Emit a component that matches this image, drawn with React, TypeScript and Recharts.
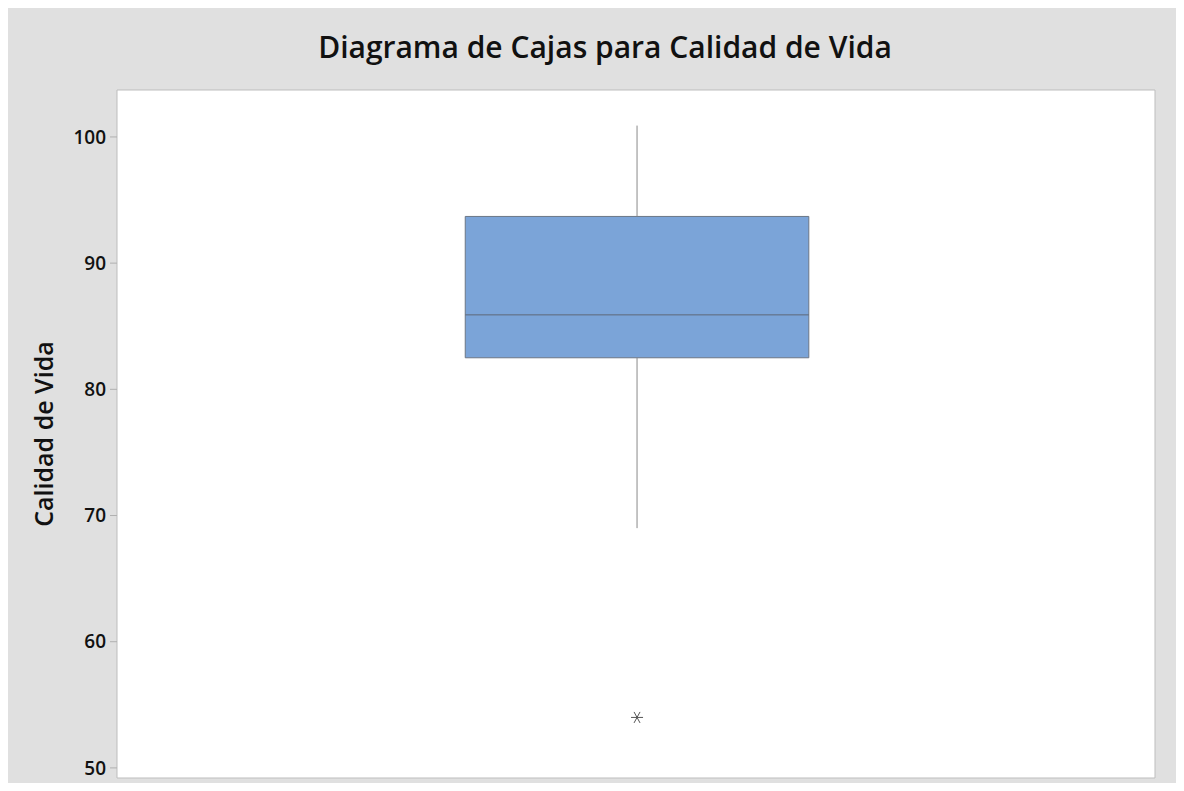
import {
  ComposedChart,
  XAxis,
  YAxis,
  CartesianGrid,
  ReferenceArea,
  ReferenceLine,
  Scatter,
  Label,
} from "recharts";

// one group of values
const categories = ["Calidad de Vida"];
const whiskerLow = [69];
const q1 = [82.5];
const median = [85.9];
const q3 = [93.7];
const whiskerHigh = [100.9];
const outliers = [54];
const yTicks = [50, 60, 70, 80, 90, 100];

const Y_DOMAIN: [number, number] = [49.2, 103.72];
const BOX_LEFT = 0.3355;
const BOX_RIGHT = 0.6665;
const CENTER = 0.501;

const font = "'Open Sans', 'Noto Sans', sans-serif";

const Asterisk = (props: any) => {
  const { cx, cy } = props;
  const r = 6;
  return (
    <g stroke="#555" strokeWidth={1}>
      <line x1={cx - r} y1={cy} x2={cx + r} y2={cy} />
      <line x1={cx - 3} y1={cy - 5.5} x2={cx + 3} y2={cy + 5.5} />
      <line x1={cx + 3} y1={cy - 5.5} x2={cx - 3} y2={cy + 5.5} />
    </g>
  );
};

const App = () => {
  const outlierData = outliers.map((v) => ({ x: CENTER, y: v }));

  return (
    <div
      style={{
        position: "relative",
        width: 1176,
        height: 783,
        marginBottom: -8,
        background: "#e0e0e0",
        fontFamily: font,
      }}
    >
      <div
        style={{
          position: "absolute",
          left: 0,
          top: 18,
          width: 1194,
          textAlign: "center",
          fontSize: 30,
          fontWeight: 600,
          color: "#111",
        }}
      >
        Diagrama de Cajas para {categories[0]}
      </div>
      <ComposedChart
        width={1176}
        height={783}
        margin={{ top: 82, right: 29, bottom: 13, left: 0 }}
      >
        <CartesianGrid fill="#fff" horizontal={false} vertical={false} />
        <XAxis type="number" dataKey="x" domain={[0, 1]} hide />
        <YAxis
          type="number"
          dataKey="y"
          domain={Y_DOMAIN}
          ticks={yTicks}
          width={109}
          axisLine={false}
          tickSize={7}
          tickMargin={4}
          tickLine={{ stroke: "#b0b0b0" }}
          tick={{ fill: "#111", fontSize: 19, fontWeight: 600, fontFamily: font }}
        >
          <Label
            content={({ viewBox }: any) => {
              const cy = viewBox.y + viewBox.height / 2;
              return (
                <text
                  x={35}
                  y={cy}
                  transform={`rotate(-90, 35, ${cy})`}
                  textAnchor="middle"
                  dominantBaseline="central"
                  fontSize={25}
                  fontWeight={600}
                  fontFamily={font}
                  fill="#111"
                >
                  {categories[0]}
                </text>
              );
            }}
          />
        </YAxis>
        <ReferenceArea
          x1={0}
          x2={1}
          y1={Y_DOMAIN[0]}
          y2={Y_DOMAIN[1]}
          fill="none"
          stroke="#bdbdbd"
          strokeWidth={1}
        />
        <ReferenceLine
          segment={[
            { x: CENTER, y: whiskerLow[0] },
            { x: CENTER, y: q1[0] },
          ]}
          stroke="#8a8a8a"
          strokeWidth={1}
        />
        <ReferenceLine
          segment={[
            { x: CENTER, y: q3[0] },
            { x: CENTER, y: whiskerHigh[0] },
          ]}
          stroke="#8a8a8a"
          strokeWidth={1}
        />
        <ReferenceArea
          x1={BOX_LEFT}
          x2={BOX_RIGHT}
          y1={q1[0]}
          y2={q3[0]}
          fill="#7ba4d8"
          fillOpacity={1}
          stroke="#6b7686"
          strokeWidth={1}
        />
        <ReferenceLine
          segment={[
            { x: BOX_LEFT, y: median[0] },
            { x: BOX_RIGHT, y: median[0] },
          ]}
          stroke="#5e6878"
          strokeWidth={1}
        />
        <Scatter data={outlierData} shape={<Asterisk />} isAnimationActive={false} />
      </ComposedChart>
    </div>
  );
};

export default App;
